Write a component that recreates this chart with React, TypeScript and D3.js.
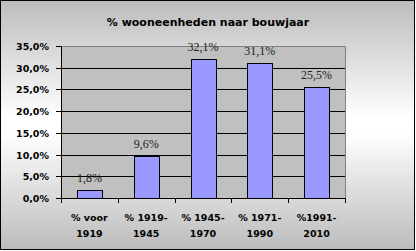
import React from "react";
import * as d3 from "d3";

const categories: string[][] = [
  ["% voor", "1919"],
  ["% 1919-", "1945"],
  ["% 1945-", "1970"],
  ["% 1971-", "1990"],
  ["%1991-", "2010"],
];
const values: number[] = [1.8, 9.6, 32.1, 31.1, 25.5];
const labels: string[] = ["1,8%", "9,6%", "32,1%", "31,1%", "25,5%"];
const yTicks: number[] = [0, 5, 10, 15, 20, 25, 30, 35];
const title = "% wooneenheden naar bouwjaar";

const W = 416;
const H = 251;
const plot = { left: 61, right: 345, top: 46, bottom: 198 };

export default function App() {
  const x = d3
    .scaleBand<number>()
    .domain(values.map((_, i) => i))
    .range([plot.left, plot.right])
    .padding(0);
  const y = d3.scaleLinear().domain([0, 35]).range([plot.bottom, plot.top]);
  const bw = x.bandwidth();
  const barW = Math.round(bw * 0.44);
  const fmt = (v: number) => d3.format(".1f")(v).replace(".", ",") + "%";
  const axisFont = "'DejaVu Sans', Verdana, sans-serif";

  return (
    <svg
      width={W}
      height={H}
      style={{ position: "absolute", left: 0, top: 0 }}
      shapeRendering="crispEdges"
    >
      <defs>
        <linearGradient id="bg" x1="0" y1="0" x2="0" y2="1">
          <stop offset="0" stopColor="#bcbcbc" />
          <stop offset="0.47" stopColor="#ffffff" />
          <stop offset="0.53" stopColor="#ffffff" />
          <stop offset="1" stopColor="#bcbcbc" />
        </linearGradient>
      </defs>
      <rect x={0} y={0} width={W} height={H} fill="#ffffff" />
      <rect x={0.5} y={0.5} width={414} height={249} fill="url(#bg)" stroke="#000" strokeWidth={1} />

      <text
        x={208}
        y={26}
        textAnchor="middle"
        fontFamily={axisFont}
        fontWeight="bold"
        fontSize={11}
        fill="#000"
        shapeRendering="auto"
      >
        {title}
      </text>

      {/* plot area */}
      <rect
        x={plot.left + 0.5}
        y={plot.top + 0.5}
        width={plot.right - plot.left}
        height={plot.bottom - plot.top}
        fill="#c0c0c0"
        stroke="#808080"
      />

      {/* gridlines */}
      {yTicks
        .filter((t) => t > 0 && t < 35)
        .map((t) => (
          <line
            key={"g" + t}
            x1={plot.left}
            x2={plot.right}
            y1={Math.round(y(t)) + 0.5}
            y2={Math.round(y(t)) + 0.5}
            stroke="#000"
          />
        ))}

      {/* bars */}
      {values.map((v, i) => {
        const cx = (x(i) as number) + bw / 2;
        const top = Math.round(y(v));
        return (
          <rect
            key={"b" + i}
            x={Math.round(cx - barW / 2) + 0.5}
            y={top + 0.5}
            width={barW}
            height={plot.bottom - top}
            fill="#9999ff"
            stroke="#000"
          />
        );
      })}

      {/* axes */}
      <line x1={plot.left + 0.5} x2={plot.left + 0.5} y1={plot.top} y2={plot.bottom + 1} stroke="#000" />
      <line x1={plot.left} x2={plot.right + 1} y1={plot.bottom + 0.5} y2={plot.bottom + 0.5} stroke="#000" />

      {yTicks.map((t) => (
        <g key={"yt" + t}>
          <line
            x1={plot.left - 5}
            x2={plot.left}
            y1={Math.round(y(t)) + 0.5}
            y2={Math.round(y(t)) + 0.5}
            stroke="#000"
          />
          <text
            x={49}
            y={y(t) + 4}
            textAnchor="end"
            fontFamily={axisFont}
            fontWeight="bold"
            fontSize={9.5}
            fill="#000"
            shapeRendering="auto"
          >
            {fmt(t)}
          </text>
        </g>
      ))}

      {/* x ticks at band boundaries */}
      {[...values.map((_, i) => x(i) as number), plot.right].map((bx, i) => (
        <line
          key={"xt" + i}
          x1={Math.round(bx) + 0.5}
          x2={Math.round(bx) + 0.5}
          y1={plot.bottom}
          y2={plot.bottom + 5}
          stroke="#000"
        />
      ))}

      {/* category labels */}
      {categories.map((lines, i) => {
        const cx = (x(i) as number) + bw / 2;
        return (
          <text
            key={"c" + i}
            textAnchor="middle"
            fontFamily={axisFont}
            fontWeight="bold"
            fontSize={9.5}
            fill="#000"
            shapeRendering="auto"
          >
            {lines.map((l, j) => (
              <tspan key={j} x={cx} y={221 + j * 16}>
                {l}
              </tspan>
            ))}
          </text>
        );
      })}

      {/* data labels */}
      {values.map((v, i) => {
        const cx = (x(i) as number) + bw / 2;
        return (
          <text
            key={"l" + i}
            x={cx}
            y={y(v) - 8}
            textAnchor="middle"
            fontFamily="'Liberation Serif', 'Times New Roman', serif"
            fontSize={12}
            fill="#222"
            shapeRendering="auto"
          >
            {labels[i]}
          </text>
        );
      })}
    </svg>
  );
}
